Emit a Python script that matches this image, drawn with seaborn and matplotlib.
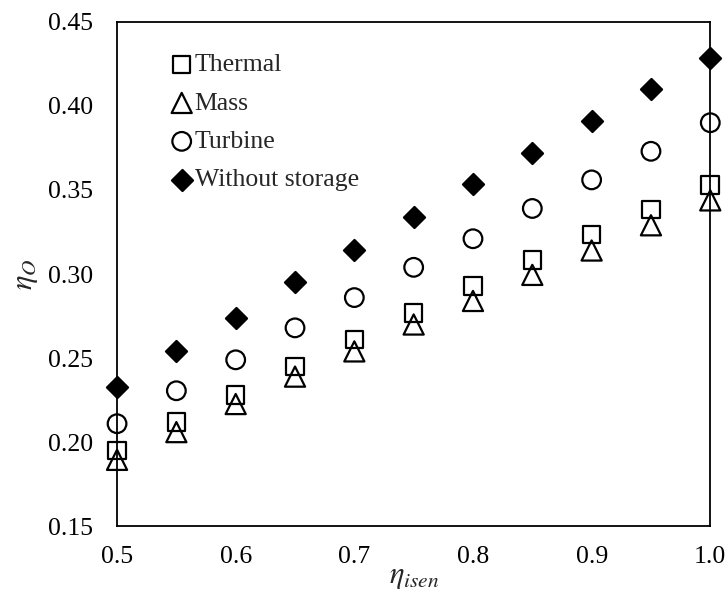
import numpy as np
import pandas as pd
import matplotlib
matplotlib.use('Agg')
import matplotlib.pyplot as plt
import seaborn as sns

# efficiency values
eta_isen = [0.50, 0.55, 0.60, 0.65, 0.70, 0.75, 0.80, 0.85, 0.90, 0.95, 1.00]
thermal = [0.195, 0.212, 0.228, 0.245, 0.261, 0.277, 0.293, 0.3085, 0.3234, 0.3383, 0.3528]
mass = [0.1895, 0.206, 0.2227, 0.239, 0.254, 0.270, 0.284, 0.2995, 0.314, 0.329, 0.3438]
turbine = [0.211, 0.2306, 0.249, 0.268, 0.286, 0.304, 0.321, 0.339, 0.356, 0.373, 0.390]
no_storage = [0.233, 0.254, 0.274, 0.295, 0.3145, 0.334, 0.3534, 0.372, 0.391, 0.410, 0.4286]

series = [('Thermal', thermal, 's', 'none', 160),
          ('Mass', mass, '^', 'none', 210),
          ('Turbine', turbine, 'o', 'none', 180),
          ('Without storage', no_storage, 'D', 'black', 115)]

sns.set_style('white')
plt.rcParams['font.family'] = ['Liberation Serif', 'DejaVu Serif']
plt.rcParams['mathtext.fontset'] = 'stix'

fig, ax = plt.subplots(figsize=(7.27, 5.9), dpi=100)
fig.subplots_adjust(left=0.161, right=0.977, top=0.963, bottom=0.108)

for name, vals, mk, fc, sz in series:
    sns.scatterplot(x=eta_isen, y=vals, marker=mk, s=sz, facecolors=fc,
                    edgecolor='black', linewidth=1.6, label=name, ax=ax,
                    zorder=3, clip_on=False)

ax.set_xlim(0.5, 1.0)
ax.set_ylim(0.15, 0.45)
ax.set_xticks(np.arange(0.5, 1.01, 0.1))
ax.set_yticks(np.arange(0.15, 0.451, 0.05))
ax.set_xticklabels([f'{v:.1f}' for v in np.arange(0.5, 1.01, 0.1)])
ax.set_yticklabels([f'{v:.2f}' for v in np.arange(0.15, 0.451, 0.05)])
ax.tick_params(axis='both', direction='in', length=6, width=1.3, labelsize=18.5, colors='black')
ax.tick_params(axis='x', pad=14)
ax.tick_params(axis='y', pad=17)
for sp in ax.spines.values():
    sp.set_color('black')
    sp.set_linewidth(1.3)

ax.set_xlabel(r'$\eta_{isen}$', fontsize=22, labelpad=-4)
ax.set_ylabel(r'$\eta_{O}$', fontsize=22, labelpad=6)

leg = ax.legend(loc='upper left', bbox_to_anchor=(0.07, 0.958), frameon=False,
                fontsize=18.5, handletextpad=0.0, handlelength=1.0,
                labelspacing=0.6, markerscale=1.0, borderaxespad=0)

fig.savefig('out.png', dpi=100)
